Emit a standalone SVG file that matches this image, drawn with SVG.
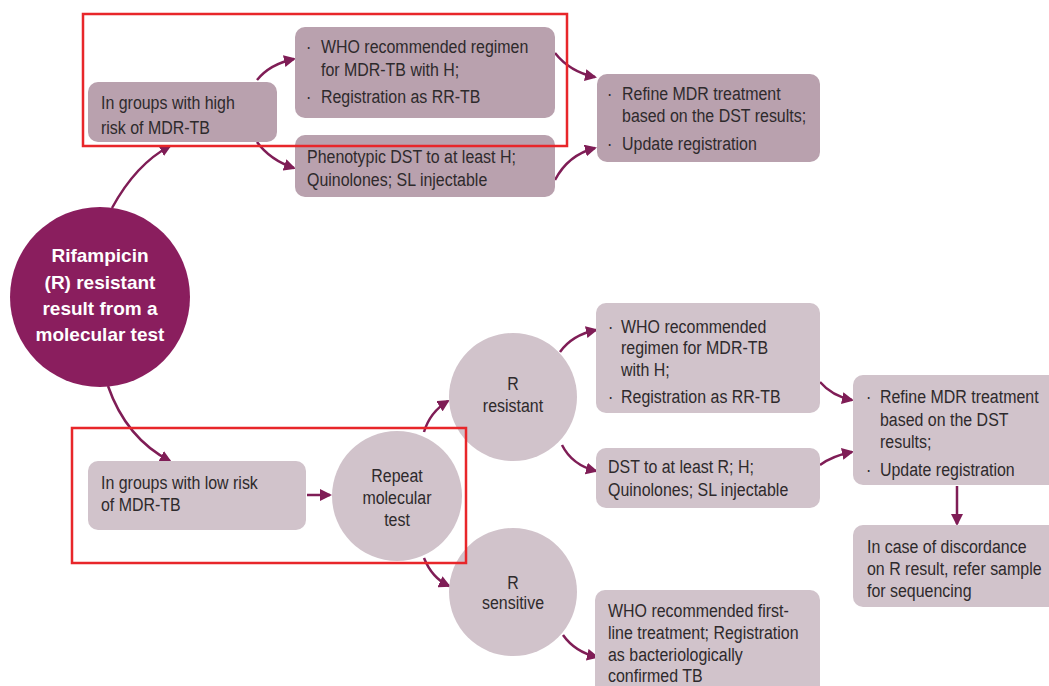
<svg xmlns="http://www.w3.org/2000/svg" width="1049" height="686" viewBox="0 0 1049 686">
<style>
.dk{fill:#b9a1ae}
.lt{fill:#d1c3cb}
.t{font-family:"Liberation Sans",Arial,sans-serif;font-size:19px;fill:#2e2a2c}
.tc{font-family:"Liberation Sans",Arial,sans-serif;font-size:19px;fill:#2e2a2c;text-anchor:middle}
.tw{font-family:"Liberation Sans",Arial,sans-serif;font-size:19px;font-weight:bold;fill:#ffffff;text-anchor:middle}
.c{fill:none;stroke:#7f1d56;stroke-width:2.5}
.red{fill:none;stroke:#e8262a;stroke-width:2.5}
</style>
<defs>
<marker id="ah" markerUnits="userSpaceOnUse" markerWidth="12" markerHeight="12" refX="10" refY="6" orient="auto" viewBox="0 0 12 12">
<path d="M0,0 L12,6 L0,12 z" fill="#7f1d56"/>
</marker>
</defs>
<rect width="1049" height="686" fill="#ffffff"/>

<g id="connectors">
<path class="c" marker-end="url(#ah)" d="M112,208 Q136,164 170,146"/>
<path class="c" marker-end="url(#ah)" d="M108,386 Q126,438 170,461"/>
<path class="c" marker-end="url(#ah)" d="M257,80 Q270,64 294,59"/>
<path class="c" marker-end="url(#ah)" d="M257,142 Q270,160 294,168"/>
<path class="c" marker-end="url(#ah)" d="M555,53 Q570,72 595,77"/>
<path class="c" marker-end="url(#ah)" d="M555,180 Q568,155 595,148"/>
<path class="c" marker-end="url(#ah)" d="M307,495 L330,495"/>
<path class="c" marker-end="url(#ah)" d="M424,432 Q430,412 448,401"/>
<path class="c" marker-end="url(#ah)" d="M424,558 Q432,578 449,586"/>
<path class="c" marker-end="url(#ah)" d="M560,352 Q572,335 596,330"/>
<path class="c" marker-end="url(#ah)" d="M562,445 Q572,465 596,471"/>
<path class="c" marker-end="url(#ah)" d="M820,382 Q832,396 852,400"/>
<path class="c" marker-end="url(#ah)" d="M820,465 Q832,456 852,452"/>
<path class="c" marker-end="url(#ah)" d="M957,486 L957,524"/>
<path class="c" marker-end="url(#ah)" d="M563,635 Q575,652 597,657"/>
</g>

<g id="rifampicin">
<circle cx="100" cy="297" r="90" fill="#8a1e5e"/>
<text class="tw" x="100" y="262">Rifampicin</text>
<text class="tw" x="100" y="289">(R) resistant</text>
<text class="tw" x="100" y="315">result from a</text>
<text class="tw" x="100" y="341">molecular test</text>
</g>

<g id="high-risk">
<rect class="dk" x="88" y="82" width="189" height="60" rx="10"/>
<g transform="scale(0.84,1)">
<text class="t" x="120.2" y="109">In groups with high</text>
<text class="t" x="120.2" y="134">risk of MDR-TB</text>
</g>
</g>

<g id="who-top">
<rect class="dk" x="295" y="27" width="260" height="91" rx="10"/>
<g transform="scale(0.84,1)">
<text class="t" x="364.3" y="53">·</text>
<text class="t" x="382.1" y="53">WHO recommended regimen</text>
<text class="t" x="382.1" y="76">for MDR-TB with H;</text>
<text class="t" x="364.3" y="103">·</text>
<text class="t" x="382.1" y="103">Registration as RR-TB</text>
</g>
</g>

<g id="phenotypic">
<rect class="dk" x="295" y="135" width="260" height="62" rx="10"/>
<g transform="scale(0.84,1)">
<text class="t" x="365.5" y="163">Phenotypic DST to at least H;</text>
<text class="t" x="365.5" y="186">Quinolones; SL injectable</text>
</g>
</g>

<g id="refine-top">
<rect class="dk" x="597" y="74" width="223" height="88" rx="10"/>
<g transform="scale(0.84,1)">
<text class="t" x="722.6" y="100">·</text>
<text class="t" x="740.5" y="100">Refine MDR treatment</text>
<text class="t" x="740.5" y="122">based on the DST results;</text>
<text class="t" x="722.6" y="150">·</text>
<text class="t" x="740.5" y="150">Update registration</text>
</g>
</g>

<g id="low-risk">
<rect class="lt" x="88" y="461" width="218" height="69" rx="10"/>
<g transform="scale(0.84,1)">
<text class="t" x="120.2" y="489">In groups with low risk</text>
<text class="t" x="120.2" y="511">of MDR-TB</text>
</g>
</g>

<g id="repeat">
<circle class="lt" cx="397" cy="496" r="65"/>
<g transform="scale(0.84,1)">
<text class="tc" x="472.6" y="482">Repeat</text>
<text class="tc" x="472.6" y="504">molecular</text>
<text class="tc" x="472.6" y="526">test</text>
</g>
</g>

<g id="r-resistant">
<circle class="lt" cx="513" cy="397" r="64"/>
<g transform="scale(0.84,1)">
<text class="tc" x="610.7" y="390">R</text>
<text class="tc" x="610.7" y="412">resistant</text>
</g>
</g>

<g id="r-sensitive">
<circle class="lt" cx="513" cy="592" r="64"/>
<g transform="scale(0.84,1)">
<text class="tc" x="610.7" y="589">R</text>
<text class="tc" x="610.7" y="609">sensitive</text>
</g>
</g>

<g id="who-bottom">
<rect class="lt" x="596" y="303" width="224" height="110" rx="10"/>
<g transform="scale(0.84,1)">
<text class="t" x="723.8" y="333">·</text>
<text class="t" x="739.3" y="333">WHO recommended</text>
<text class="t" x="739.3" y="354">regimen for MDR-TB</text>
<text class="t" x="739.3" y="376">with H;</text>
<text class="t" x="723.8" y="403">·</text>
<text class="t" x="739.3" y="403">Registration as RR-TB</text>
</g>
</g>

<g id="dst-bottom">
<rect class="lt" x="596" y="448" width="224" height="60" rx="10"/>
<g transform="scale(0.84,1)">
<text class="t" x="723.8" y="473">DST to at least R; H;</text>
<text class="t" x="723.8" y="496">Quinolones; SL injectable</text>
</g>
</g>

<g id="refine-bottom">
<rect class="lt" x="853" y="375" width="206" height="110" rx="10"/>
<g transform="scale(0.84,1)">
<text class="t" x="1031" y="403">·</text>
<text class="t" x="1047.6" y="403">Refine MDR treatment</text>
<text class="t" x="1047.6" y="426">based on the DST</text>
<text class="t" x="1047.6" y="448">results;</text>
<text class="t" x="1031" y="476">·</text>
<text class="t" x="1047.6" y="476">Update registration</text>
</g>
</g>

<g id="discordance">
<rect class="lt" x="853" y="525" width="206" height="82" rx="10"/>
<g transform="scale(0.84,1)">
<text class="t" x="1032.1" y="553">In case of discordance</text>
<text class="t" x="1032.1" y="575">on R result, refer sample</text>
<text class="t" x="1032.1" y="597">for sequencing</text>
</g>
</g>

<g id="first-line">
<rect class="lt" x="595" y="590" width="225" height="110" rx="10"/>
<g transform="scale(0.84,1)">
<text class="t" x="723.8" y="617">WHO recommended first-</text>
<text class="t" x="723.8" y="639">line treatment; Registration</text>
<text class="t" x="723.8" y="661">as bacteriologically</text>
<text class="t" x="723.8" y="682">confirmed TB</text>
</g>
</g>

<g id="highlights">
<rect class="red" x="83" y="14" width="484" height="132"/>
<rect class="red" x="72" y="428" width="394" height="135"/>
</g>
</svg>
